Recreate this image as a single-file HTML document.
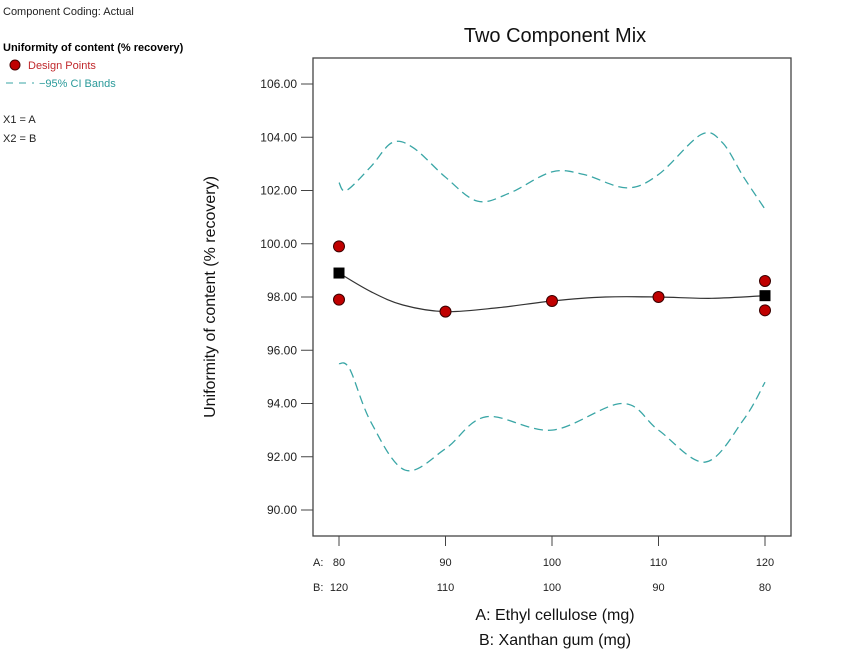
<!DOCTYPE html>
<html><head><meta charset="utf-8"><style>
body{margin:0;background:#fff;width:868px;height:651px;overflow:hidden;font-family:"Liberation Sans",sans-serif}
svg text{font-family:"Liberation Sans",sans-serif}
</style></head><body>
<svg id="c" width="868" height="651">
<text x="3" y="15" font-size="11" fill="#222">Component Coding: Actual</text>
<text x="3" y="51" font-size="11" font-weight="bold" fill="#000">Uniformity of content (% recovery)</text>
<circle cx="15" cy="65" r="5" fill="#c00000" stroke="#400"/>
<text x="28" y="69" font-size="11" fill="#c0282c">Design Points</text>
<line x1="6" y1="83" x2="34" y2="83" stroke="#3aa6a6" stroke-dasharray="7,6"/>
<text x="39" y="87" font-size="11" fill="#2a9a9a">−95% CI Bands</text>
<text x="3" y="123" font-size="11" fill="#222">X1 = A</text>
<text x="3" y="142" font-size="11" fill="#222">X2 = B</text>
<text x="555" y="42" font-size="20" text-anchor="middle" fill="#111">Two Component Mix</text>
<rect x="313" y="58" width="478" height="478" fill="none" stroke="#444" stroke-width="1.3"/>
<text transform="translate(215,297) rotate(-90)" font-size="16" text-anchor="middle" fill="#111">Uniformity of content (% recovery)</text>
<text x="555" y="620" font-size="16" text-anchor="middle" fill="#111">A: Ethyl cellulose (mg)</text>
<text x="555" y="645" font-size="16" text-anchor="middle" fill="#111">B: Xanthan gum (mg)</text>
<text x="313" y="566" font-size="11" fill="#222">A:</text>
<text x="313" y="591" font-size="11" fill="#222">B:</text>
<g id="g"></g>
</svg>
<script>
const yTicks=[90,92,94,96,98,100,102,104,106];
const aTicks=[80,90,100,110,120];
const bTicks=[120,110,100,90,80];
const upperA=[80,80.7,83,85,87,90,93,96,100,103,107,110,114,116,118,120];
const upperV=[102.3,102.0,102.9,103.8,103.6,102.5,101.6,101.9,102.7,102.6,102.1,102.6,104.1,103.8,102.5,101.3];
const lowerA=[80,81,83,86.2,90,93.8,100,106.6,110,114.4,118,120];
const lowerV=[95.5,95.3,93.3,91.5,92.3,93.5,93.0,94.0,93.0,91.8,93.4,94.8];
const fitA=[80,83,86,90,95,100,105,110,115,120];
const fitV=[98.9,98.2,97.7,97.45,97.6,97.85,98.0,98.0,97.95,98.05];
const ptA=[80,80,90,100,110,120,120];
const ptV=[99.9,97.9,97.45,97.85,98.0,98.6,97.5];
const sqA=[80,120];
const sqV=[98.9,98.05];
const X=a=>339+(a-80)*426/40;
const Y=v=>510-(v-90)*426/16;
const g=document.getElementById('g');
const NS='http://www.w3.org/2000/svg';
function mk(t,at){const e=document.createElementNS(NS,t);for(const k in at)e.setAttribute(k,at[k]);g.appendChild(e);return e;}
yTicks.forEach(v=>{
 const l=mk('line',{x1:301,x2:313,y1:Y(v),y2:Y(v),stroke:'#444'});
 
 
 const t=mk('text',{x:297,y:Y(v)+4,'font-size':12,'text-anchor':'end',fill:'#222'});t.textContent=v.toFixed(2);
 
 
});
aTicks.forEach((a,i)=>{
 const l=mk('line',{x1:X(a),x2:X(a),y1:536,y2:546,stroke:'#444'});
 
 
 const t=mk('text',{x:X(a),y:566,'font-size':11,'text-anchor':'middle',fill:'#222'});t.textContent=a;
 
 
 const t2=mk('text',{x:X(a),y:591,'font-size':11,'text-anchor':'middle',fill:'#222'});t2.textContent=bTicks[i];
 
 
});
function path(A,V){const p=A.map((a,i)=>[X(a),Y(V[i])]);let d='M'+p[0][0]+','+p[0][1];
 for(let i=0;i<p.length-1;i++){const p0=p[i-1]||p[i],p1=p[i],p2=p[i+1],p3=p[i+2]||p2;
 d+=` C${p1[0]+(p2[0]-p0[0])/6},${p1[1]+(p2[1]-p0[1])/6} ${p2[0]-(p3[0]-p1[0])/6},${p2[1]-(p3[1]-p1[1])/6} ${p2[0]},${p2[1]}`;}return d;}
const u=mk('path',{d:path(upperA,upperV),fill:'none',stroke:'#3aa6a6','stroke-width':1.3,'stroke-dasharray':'9,5'});


const lo=mk('path',{d:path(lowerA,lowerV),fill:'none',stroke:'#3aa6a6','stroke-width':1.3,'stroke-dasharray':'9,5'});


const f=mk('path',{d:path(fitA,fitV),fill:'none',stroke:'#333','stroke-width':1.2});


ptA.forEach((a,i)=>{const c=mk('circle',{cx:X(a),cy:Y(ptV[i]),r:5.5,fill:'#c00000',stroke:'#3a0000'});
 
 });
sqA.forEach((a,i)=>{const r=mk('rect',{x:X(a)-5.5,y:Y(sqV[i])-5.5,width:11,height:11,fill:'#000'});
 
 });
</script>
</body></html>
